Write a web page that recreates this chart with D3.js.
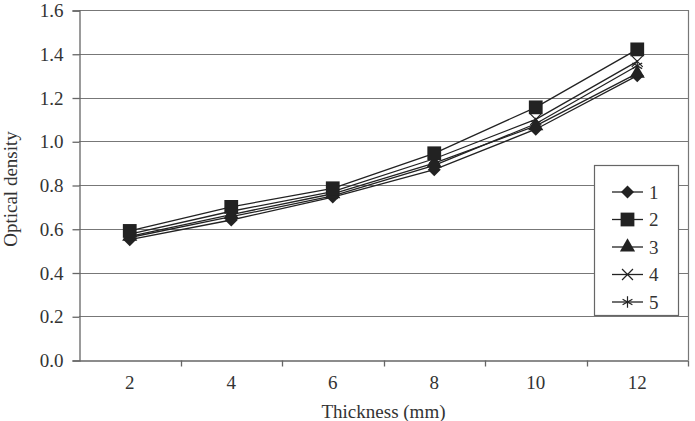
<!DOCTYPE html>
<html>
<head>
<meta charset="utf-8">
<script src="https://cdn.jsdelivr.net/npm/d3@7"></script>
<style>
  body { margin: 0; background: #fff; }
  text { font-family: "Liberation Serif", "DejaVu Serif", serif; fill: #333; }
</style>
</head>
<body>
<svg id="chart" width="695" height="421"></svg>
<script>
// chart data
var thickness = ["2", "4", "6", "8", "10", "12"];
var seriesNames = ["1", "2", "3", "4", "5"];
var s1 = [0.55, 0.64, 0.745, 0.87, 1.055, 1.30];
var s2 = [0.59, 0.70, 0.785, 0.945, 1.155, 1.42];
var s3 = [0.565, 0.665, 0.76, 0.90, 1.07, 1.31];
var s4 = [0.575, 0.68, 0.77, 0.92, 1.10, 1.365];
var s5 = [0.56, 0.655, 0.75, 0.89, 1.08, 1.345];
var yTicks = [0, 0.2, 0.4, 0.6, 0.8, 1.0, 1.2, 1.4, 1.6];

var allSeries = [s1, s2, s3, s4, s5];

var svg = d3.select("#chart");
var plotLeft = 79, plotRight = 688, plotTop = 10, plotBottom = 360;
var fontSize = "19px";

var xScale = d3.scaleBand()
    .domain(thickness)
    .range([plotLeft, plotRight]);

var yScale = d3.scaleLinear()
    .domain([0, 1.6])
    .range([plotBottom, plotTop]);

// gridlines
svg.append("g")
    .selectAll("line")
    .data(yTicks.slice(1))
    .enter()
    .append("line")
    .attr("x1", plotLeft)
    .attr("x2", plotRight)
    .attr("y1", function (d) { return Math.round(yScale(d)) + 0.5; })
    .attr("y2", function (d) { return Math.round(yScale(d)) + 0.5; })
    .attr("stroke", "#777")
    .attr("stroke-width", 1.2);

// right border
svg.append("line")
    .attr("x1", plotRight + 0.5).attr("x2", plotRight + 0.5)
    .attr("y1", plotTop).attr("y2", plotBottom)
    .attr("stroke", "#777").attr("stroke-width", 1.2);

// y axis
var yAxis = d3.axisLeft(yScale)
    .tickValues(yTicks)
    .tickSize(7)
    .tickPadding(9)
    .tickFormat(d3.format(".1f"));
var yG = svg.append("g")
    .attr("transform", "translate(" + (plotLeft + 0.5) + ",0.5)")
    .call(yAxis);
yG.select(".domain").attr("stroke", "#666").attr("stroke-width", 1.3);
yG.selectAll(".tick line").attr("stroke", "#666").attr("stroke-width", 1.3);
yG.selectAll("text")
    .style("font-family", "Liberation Serif")
    .style("font-size", fontSize)
    .attr("fill", "#333");

// x axis - ticks sit between the categories
var xAxis = d3.axisBottom(xScale)
    .tickSize(0)
    .tickPadding(15);
var xG = svg.append("g")
    .attr("transform", "translate(0," + (plotBottom + 0.5) + ")")
    .call(xAxis);
xG.select(".domain").attr("stroke", "#666").attr("stroke-width", 1.3);
xG.selectAll("text")
    .style("font-family", "Liberation Serif")
    .style("font-size", fontSize)
    .attr("fill", "#333");

xG.selectAll(".sep")
    .data(thickness)
    .enter()
    .append("line")
    .attr("class", "sep")
    .attr("x1", function (d) { return Math.round(xScale(d) + xScale.bandwidth()) + 0.5; })
    .attr("x2", function (d) { return Math.round(xScale(d) + xScale.bandwidth()) + 0.5; })
    .attr("y1", 0)
    .attr("y2", 6)
    .attr("stroke", "#666")
    .attr("stroke-width", 1.3);

// axis titles
svg.append("text")
    .attr("x", (plotLeft + plotRight) / 2)
    .attr("y", 418)
    .attr("text-anchor", "middle")
    .style("font-size", fontSize)
    .text("Thickness (mm)");

svg.append("text")
    .attr("transform", "translate(17," + ((plotTop + plotBottom) / 2 + 4) + ") rotate(-90)")
    .attr("text-anchor", "middle")
    .style("font-size", fontSize)
    .text("Optical density");

// square diamond (d3's own diamond is too narrow)
var wideDiamond = {
    draw: function (context, size) {
        var r = Math.sqrt(size / 2);
        context.moveTo(0, -r);
        context.lineTo(r, 0);
        context.lineTo(0, r);
        context.lineTo(-r, 0);
        context.closePath();
    }
};

// markers
var symbols = [
    { type: wideDiamond, size: 85, kind: "fill" },
    { type: d3.symbolSquare, size: 190, kind: "fill" },
    { type: d3.symbolTriangle, size: 100, kind: "fill" },
    { type: d3.symbolTimes, size: 80, kind: "stroke" },
    { type: d3.symbolAsterisk, size: 90, kind: "stroke" }
];

function drawMarker(g, i, x, y) {
    var s = symbols[i];
    var p = g.append("path")
        .attr("d", d3.symbol().type(s.type).size(s.size)())
        .attr("transform", "translate(" + x + "," + y + ")");
    if (s.kind === "fill") {
        p.attr("fill", "#222").attr("stroke", "none");
    } else {
        p.attr("fill", "none").attr("stroke", "#222").attr("stroke-width", 1.2);
    }
}

var line = d3.line()
    .x(function (d, i) { return xScale(thickness[i]) + xScale.bandwidth() / 2; })
    .y(function (d) { return yScale(d); });

var plot = svg.append("g");
allSeries.forEach(function (vals) {
    plot.append("path")
        .datum(vals)
        .attr("d", line)
        .attr("fill", "none")
        .attr("stroke", "#222")
        .attr("stroke-width", 1.3);
});

// draw markers with square on top, like the original
[4, 3, 0, 2, 1].forEach(function (si) {
    allSeries[si].forEach(function (v, i) {
        drawMarker(plot, si, xScale(thickness[i]) + xScale.bandwidth() / 2, yScale(v));
    });
});

// legend
var legend = svg.append("g");
legend.append("rect")
    .attr("x", 594.5).attr("y", 165.5)
    .attr("width", 84).attr("height", 150)
    .attr("fill", "#fff")
    .attr("stroke", "#666")
    .attr("stroke-width", 1.2);

seriesNames.forEach(function (name, i) {
    var y = 192 + i * 27.5;
    legend.append("line")
        .attr("x1", 612).attr("x2", 643)
        .attr("y1", y).attr("y2", y)
        .attr("stroke", "#222").attr("stroke-width", 1.3);
    drawMarker(legend, i, 627.5, y);
    legend.append("text")
        .attr("x", 649)
        .attr("y", y + 6.5)
        .style("font-size", fontSize)
        .text(name);
});
</script>
</body>
</html>
